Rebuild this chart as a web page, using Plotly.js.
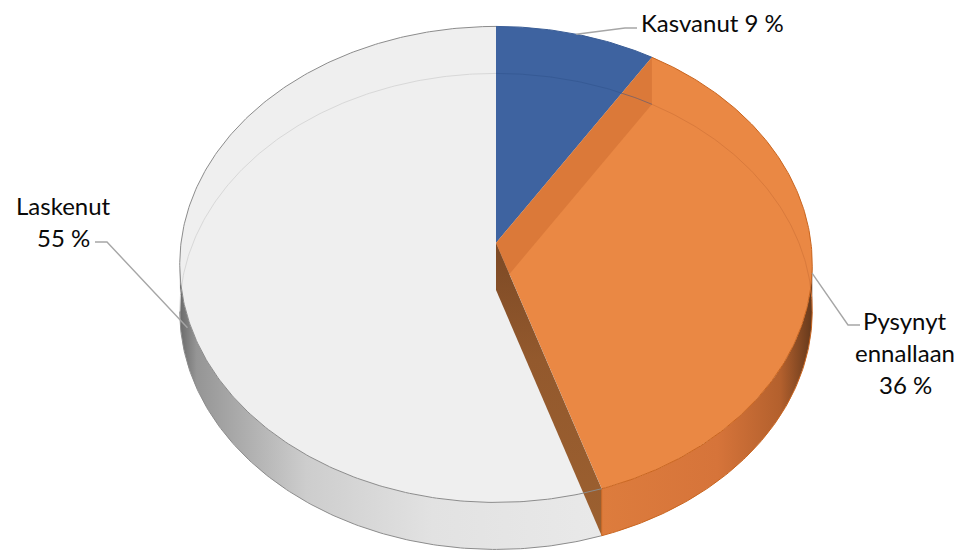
<!DOCTYPE html>
<html>
<head>
<meta charset="utf-8">
<script src="https://cdn.plot.ly/plotly-3.0.1.min.js"></script>
<style>html,body{margin:0;padding:0;background:#fff;}#chart{width:965px;height:550px;}</style>
</head>
<body>
<div id="chart"></div>
<script>
// ---- data ----
const categories = ['Kasvanut', 'Pysynyt ennallaan', 'Laskenut'];
const values = [9, 36, 55];
const labelLines = [['Kasvanut 9 %'], ['Pysynyt', 'ennallaan', '36 %'], ['Laskenut', '55 %']];

// ---- style / geometry (pixels) ----
const topColors = ['#3e63a0', '#ea8844', '#efefef'];
const ghostColors = ['#365a95', '#d97a3c', '#d8d8d8'];
const rimColors = ['#3a5d96', '#c9651f', '#8c8c8c'];
const sideScales = [
  [[0, '#34558a'], [1, '#2c4a7a']],
  [[0, '#dd7c3d'], [0.55, '#d6743a'], [0.85, '#b3602d'], [1, '#65391c']],
  [[0, '#6a6a6a'], [0.04, '#959595'], [0.3, '#cdcdcd'], [0.6, '#e2e2e2'], [1, '#e9e9e9']]
];
const CX = 496, CY = 243, RX = 315, RY = 238, P = 0.09, D = 47;
const labelPos = [   // [x, yFirstLine] centre of text block
  [712, 22], [905, 320], [63, 205]
];
const lineGap = 32;
const elbows = [ [[625, 28], [637, 28]], [[848, 325], [860, 325]], [[107, 242], [95, 242]] ];
const anchorDepth = [0, 0, 1];
const anchorShift = [0, 0, 7];

function pt(deg, depth) {
  const t = deg * Math.PI / 180, u = -Math.cos(t), f = 1 + P * u;
  return [CX + RX * Math.sin(t) * f, CY + RY * u * f + (depth || 0)];
}
function arc(a, b, depth, n) {
  n = n || Math.max(8, Math.ceil(Math.abs(b - a) * 1.5));
  const xs = [], ys = [];
  for (let i = 0; i <= n; i++) { const p = pt(a + (b - a) * i / n, depth); xs.push(p[0]); ys.push(p[1]); }
  return [xs, ys];
}
// visible side range (extreme x positions)
let vis0 = 90, vis1 = 270, mx = -1e9, mn = 1e9;
for (let d = 0; d < 360; d += 0.1) { const x = pt(d)[0]; if (x > mx) { mx = x; vis0 = d; } if (x < mn) { mn = x; vis1 = d; } }

const total = values.reduce((s, v) => s + v, 0);
const starts = [], ends = [];
let acc = 0;
values.forEach(v => { starts.push(acc / total * 360); acc += v; ends.push(acc / total * 360); });

const traces = [];
const base = {type: 'scatter', mode: 'lines', hoverinfo: 'skip', showlegend: false};

// side walls
values.forEach((v, i) => {
  const lo = Math.max(starts[i], vis0), hi = Math.min(ends[i], vis1);
  if (lo >= hi) return;
  const t = arc(lo, hi, 0), b = arc(hi, lo, D);
  const xs = t[0].concat(b[0]), ys = t[1].concat(b[1]);
  traces.push(Object.assign({}, base, {
    x: xs, y: ys, fill: 'toself', line: {width: 0},
    fillgradient: {type: 'horizontal', colorscale: sideScales[i], start: Math.min(...xs), stop: Math.max(...xs)}
  }));
  const be = arc(lo, hi, D);
  traces.push(Object.assign({}, base, {x: be[0], y: be[1], line: {color: rimColors[i], width: 1}}));
});

// top faces
values.forEach((v, i) => {
  const a = arc(starts[i], ends[i], 0);
  traces.push(Object.assign({}, base, {
    x: [CX].concat(a[0], [CX]), y: [CY].concat(a[1], [CY]),
    fill: 'toself', fillcolor: topColors[i], line: {width: 0}
  }));
});

// ghost of lower rim seen through the top (back half)
values.forEach((v, i) => {
  const segs = [[Math.max(starts[i], vis1 - 360), Math.min(ends[i], vis0)], [Math.max(starts[i], vis1), Math.min(ends[i], 360 + vis0)]];
  segs.forEach(s => {
    if (s[0] >= s[1]) return;
    const g = arc(s[0], s[1], D);
    traces.push(Object.assign({}, base, {x: g[0], y: g[1], line: {color: ghostColors[i], width: 1}}));
  });
});

// radial faces
(function () {
  const r1 = pt(ends[0]);
  traces.push(Object.assign({}, base, {
    x: [CX, r1[0], r1[0], CX, CX], y: [CY, r1[1], r1[1] + D, CY + D, CY],
    fill: 'toself', fillcolor: 'rgba(205,110,50,0.55)', line: {width: 0}
  }));
  const r2 = pt(ends[1]);
  traces.push(Object.assign({}, base, {
    x: [CX, CX, r2[0], r2[0], CX], y: [CY, CY + D, r2[1] + D, r2[1], CY],
    fill: 'toself', line: {width: 0},
    fillgradient: {type: 'vertical', colorscale: [[0, '#7c4925'], [0.4, '#93592d'], [1, '#9c6030']], start: CY, stop: r2[1] + D}
  }));
  traces.push(Object.assign({}, base, {x: [r2[0], r2[0]], y: [r2[1], r2[1] + D], line: {color: '#c9651f', width: 1}}));
})();

// rim outlines
values.forEach((v, i) => {
  const a = arc(starts[i], ends[i], 0);
  traces.push(Object.assign({}, base, {x: a[0], y: a[1], line: {color: rimColors[i], width: 1}}));
});

// leader lines and labels
const annotations = [];
values.forEach((v, i) => {
  const mid = (starts[i] + ends[i]) / 2;
  const an = pt(mid, anchorDepth[i] * D);
  an[0] += anchorShift[i];
  traces.push(Object.assign({}, base, {
    x: [an[0], elbows[i][0][0], elbows[i][1][0]], y: [an[1], elbows[i][0][1], elbows[i][1][1]],
    line: {color: '#a6a6a6', width: 1.4}
  }));
  labelLines[i].forEach((txt, k) => {
    annotations.push({
      x: labelPos[i][0], y: labelPos[i][1] + k * lineGap, xref: 'x', yref: 'y',
      text: txt, showarrow: false, xanchor: 'center', yanchor: 'middle',
      font: {family: 'Lato, "Open Sans", sans-serif', size: 24, color: '#0a0a0a'}
    });
  });
});

const layout = {
  width: 965, height: 550, margin: {l: 0, r: 0, t: 0, b: 0},
  paper_bgcolor: '#fff', plot_bgcolor: '#fff', showlegend: false,
  xaxis: {range: [0, 965], visible: false, fixedrange: true},
  yaxis: {range: [550, 0], visible: false, fixedrange: true},
  annotations: annotations
};
Plotly.newPlot('chart', traces, layout, {staticPlot: true, displayModeBar: false});
</script>
</body>
</html>
